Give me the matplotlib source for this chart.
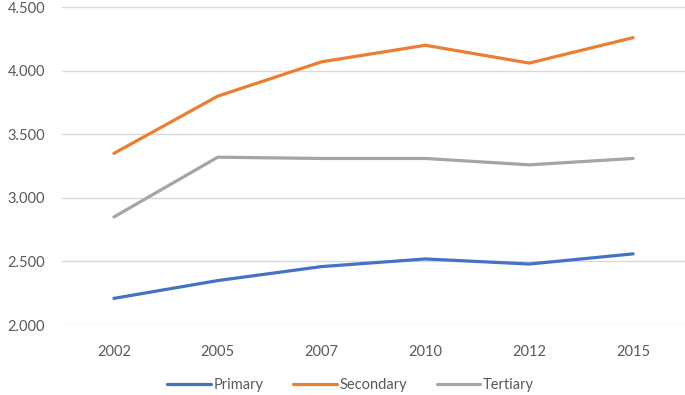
import matplotlib
matplotlib.use("Agg")
import matplotlib.pyplot as plt

# Data
years = ["2002", "2005", "2007", "2010", "2012", "2015"]
primary = [2.21, 2.35, 2.46, 2.52, 2.48, 2.56]
secondary = [3.35, 3.80, 4.07, 4.20, 4.06, 4.26]
tertiary = [2.85, 3.32, 3.31, 3.31, 3.26, 3.31]
y_ticks = [2.0, 2.5, 3.0, 3.5, 4.0, 4.5]
y_tick_labels = ["2.000", "2.500", "3.000", "3.500", "4.000", "4.500"]

plt.rcParams['font.family'] = ['Lato', 'DejaVu Sans']

fig = plt.figure(figsize=(6.85, 3.95), dpi=100)
ax = fig.add_axes([0.0905, 0.177, 0.9095, 0.805])

x = range(len(years))
ax.plot(x, primary, color="#4472C4", lw=2.3, label="Primary", solid_capstyle="round")
ax.plot(x, secondary, color="#ED7D31", lw=2.3, label="Secondary", solid_capstyle="round")
ax.plot(x, tertiary, color="#A5A5A5", lw=2.3, label="Tertiary", solid_capstyle="round")

ax.set_xlim(-0.5, len(years) - 0.5)
ax.set_ylim(2.0, 4.5)
ax.set_xticks(list(x))
ax.set_xticklabels(years)
ax.set_yticks(y_ticks)
ax.set_yticklabels(y_tick_labels)
ax.tick_params(length=0, labelsize=10.5, labelcolor="#595959")
ax.tick_params(axis="x", pad=14)
ax.tick_params(axis="y", pad=12)

ax.grid(axis="y", color="#D9D9D9", lw=1)
ax.set_axisbelow(True)
for s in ax.spines.values():
    s.set_visible(False)

leg = fig.legend(loc="center", bbox_to_anchor=(0.512, 0.025), ncol=3, frameon=False,
                 fontsize=10.5, handlelength=3.0, handletextpad=0.2, columnspacing=2.0)
for t in leg.get_texts():
    t.set_color("#595959")

fig.savefig("out.png", dpi=100)
